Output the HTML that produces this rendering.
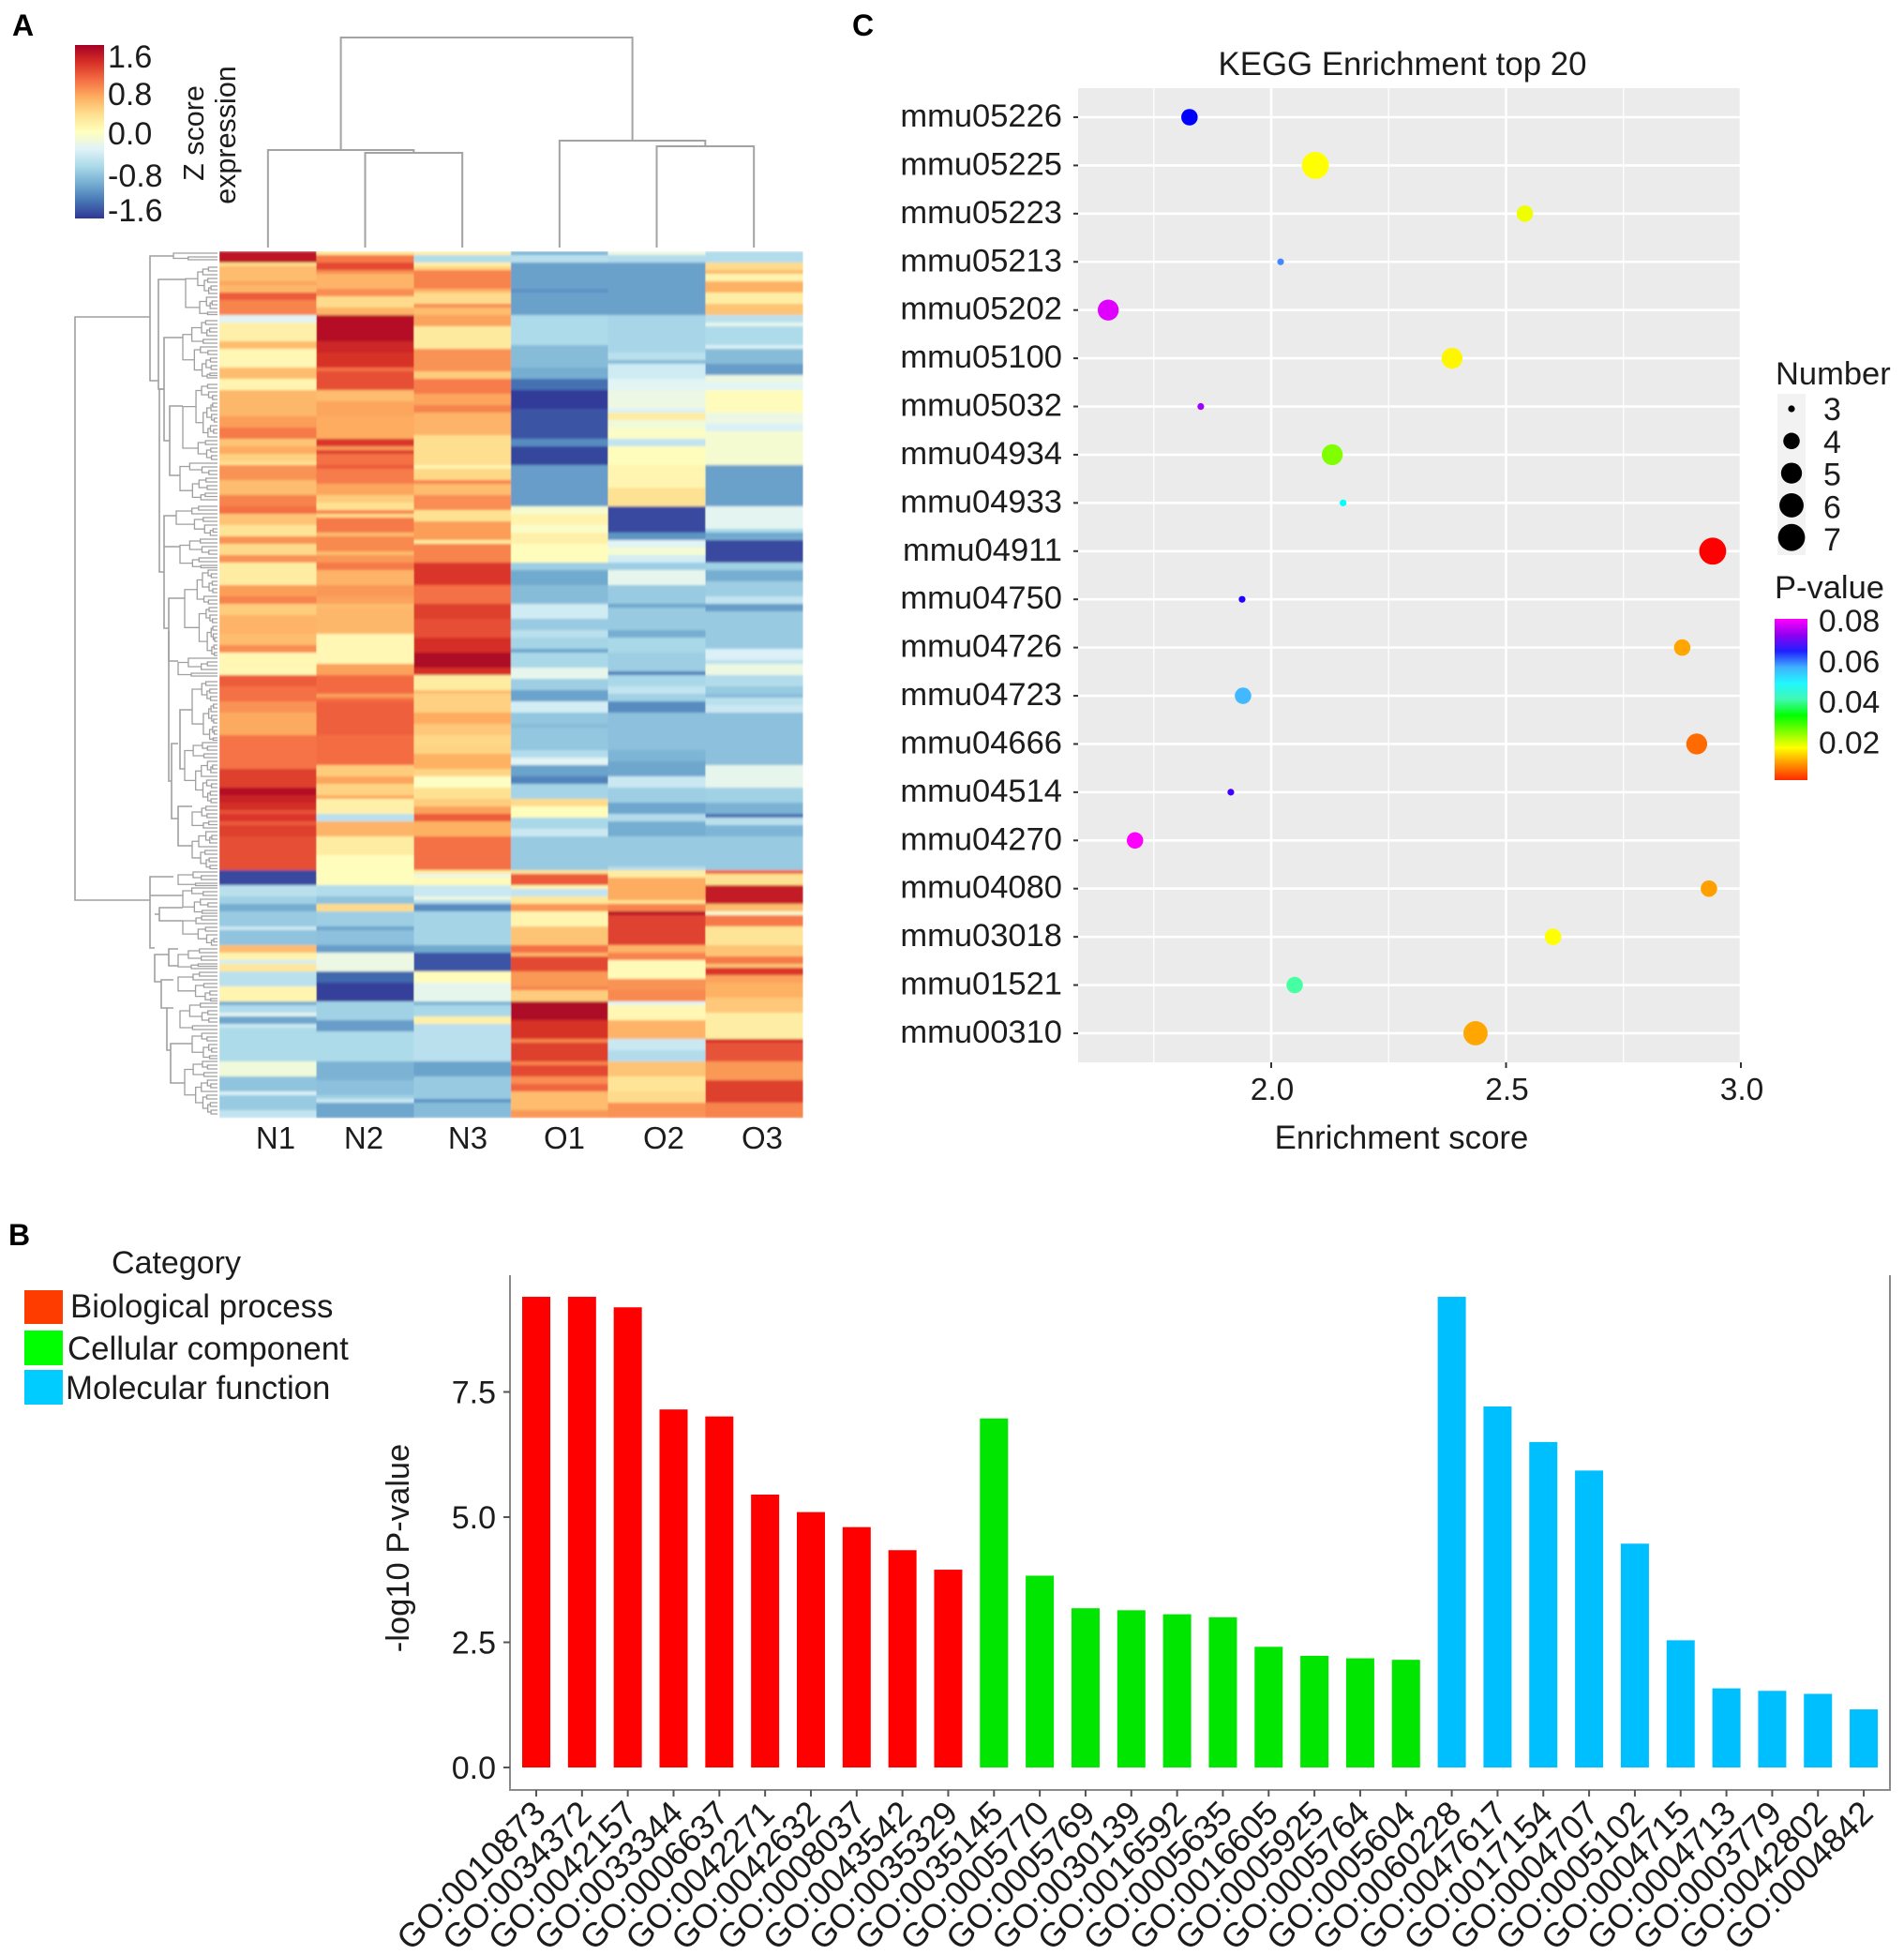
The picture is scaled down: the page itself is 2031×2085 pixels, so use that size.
<!DOCTYPE html>
<html lang="en">
<head>
<meta charset="utf-8">
<title>Heatmap, GO enrichment and KEGG enrichment</title>
<style>
html,body{margin:0;padding:0;background:#fff;}
svg{display:block;}
text{font-family:"Liberation Sans",sans-serif;fill:#1c1c1c;}
</style>
</head>
<body>
<svg id="figure" xmlns="http://www.w3.org/2000/svg" width="2031" height="2085" viewBox="0 0 2031 2085">
<defs>
<linearGradient id="zGrad" x1="0" y1="0" x2="0" y2="1">
<stop offset="0" stop-color="#a50026"/><stop offset=".1" stop-color="#d73027"/><stop offset=".2" stop-color="#f46d43"/><stop offset=".3" stop-color="#fdae61"/><stop offset=".4" stop-color="#fee090"/><stop offset=".5" stop-color="#ffffbf"/><stop offset=".6" stop-color="#e0f3f8"/><stop offset=".7" stop-color="#abd9e9"/><stop offset=".8" stop-color="#74add1"/><stop offset=".9" stop-color="#4575b4"/><stop offset="1" stop-color="#313695"/>
</linearGradient>
<linearGradient id="pGrad" x1="0" y1="0" x2="0" y2="1">
<stop offset="0" stop-color="#ff00ff"/><stop offset=".1" stop-color="#9000f0"/><stop offset=".2" stop-color="#2020ff"/><stop offset=".3" stop-color="#40b0ff"/><stop offset=".4" stop-color="#20f8ff"/><stop offset=".5" stop-color="#40f8b0"/><stop offset=".6" stop-color="#00ff00"/><stop offset=".8" stop-color="#ffff00"/><stop offset="1" stop-color="#ff2a00"/>
</linearGradient>
<filter id="soft" x="0" y="0" width="1" height="1"><feGaussianBlur stdDeviation="0.5 1.2"/></filter>
</defs>

<text x="13" y="38" font-size="32" font-weight="bold" style="fill:#000">A</text>
<text x="909" y="38" font-size="32" font-weight="bold" style="fill:#000">C</text>
<text x="9" y="1328" font-size="32" font-weight="bold" style="fill:#000">B</text>

<g>
<rect x="80" y="48" width="31" height="185" fill="url(#zGrad)"/>
<text x="115" y="72" font-size="34">1.6</text>
<text x="115" y="112" font-size="34">0.8</text>
<text x="115" y="154" font-size="34">0.0</text>
<text x="115" y="199" font-size="34">-0.8</text>
<text x="115" y="236" font-size="34">-1.6</text>
<text transform="translate(217,142) rotate(-90)" text-anchor="middle" font-size="30.5">Z score</text>
<text transform="translate(251,144) rotate(-90)" text-anchor="middle" font-size="30.5">expression</text>
</g>

<g id="colDendro" fill="none" stroke="#a3a3a3" stroke-width="2"></g>
<g id="rowDendro" fill="none" stroke="#9f9f9f" stroke-width="1.6"></g>
<g id="heat" filter="url(#soft)" shape-rendering="crispEdges"></g>
<g id="heatLabels"></g>

<text x="1496" y="80" text-anchor="middle" font-size="35" textLength="393" lengthAdjust="spacingAndGlyphs">KEGG Enrichment top 20</text>
<rect x="1150" y="94" width="707" height="1039" fill="#ebebeb"/>
<g id="keggGrid"></g>
<g id="keggAxes"></g>
<g id="keggPoints"></g>
<text x="1495" y="1225" text-anchor="middle" font-size="34.8">Enrichment score</text>

<text x="1894" y="410" font-size="34.5">Number</text>
<rect x="1896" y="420" width="30" height="172" fill="#f2f2f2"/>
<g id="sizeLegend"></g>
<text x="1893" y="638" font-size="34.5">P-value</text>
<rect x="1893" y="660" width="35" height="172" fill="url(#pGrad)"/>
<g id="pLegend"></g>

<g>
<text x="188" y="1358" text-anchor="middle" font-size="34">Category</text>
<rect x="26" y="1376" width="41" height="36" fill="#ff3c00"/>
<rect x="26" y="1419" width="41" height="37" fill="#00ff00"/>
<rect x="26" y="1461" width="41" height="37" fill="#00ccff"/>
<text x="75" y="1405" font-size="34.8">Biological process</text>
<text x="72" y="1450" font-size="34.8">Cellular component</text>
<text x="70" y="1492" font-size="34.8">Molecular function</text>
</g>

<g id="barAxes"></g>
<g id="bars"></g>
<text transform="translate(436,1651) rotate(-90)" text-anchor="middle" font-size="34.5">-log10 P-value</text>
</svg>

<script>
// ---------- Panel A data: z-score runs per column, as [row count, z] ----------
const heatColumns = ["N1","N2","N3","O1","O2","O3"];
const heatN1 = [[3,1.45],[1,.35],[4,.55],[1,.68],[2,.58],[2,1.05],[4,.85],[2,-.3],[5,.15],[2,.55],[5,.08],[3,.55],[3,.1],[7,.58],[3,.72],[3,.9],[2,.5],[2,.65],[2,.42],[1,.3],[4,.78],[4,.55],[3,.85],[2,.95],[3,.5],[3,.28],[2,.78],[3,.35],[2,.78],[6,.2],[3,.72],[2,.85],[3,.45],[5,.6],[3,.55],[2,.8],[6,.08],[3,1.05],[4,.95],[3,.78],[6,.66],[9,.93],[5,1.2],[2,1.5],[2,1.38],[2,1.3],[1,1.1],[2,1.25],[1,1.05],[3,1.2],[9,1.12],[4,-1.5],[3,-.55],[2,-.7],[2,-.95],[4,-.75],[1,-.45],[4,-.8],[2,.55],[2,.12],[1,-.4],[2,.25],[4,-.55],[4,.1],[1,-.95],[2,-.6],[1,-.3],[2,-1],[1,-.45],[9,-.62],[4,-.15],[4,-.8],[1,-.35],[4,-.75],[2,-.5]];
const heatN2 = [[1,.25],[2,.9],[2,1.15],[1,.8],[4,.6],[2,.8],[3,.35],[2,.6],[7,1.5],[3,1.35],[4,1.28],[1,.95],[5,1.12],[3,.55],[4,.68],[6,.65],[2,1.25],[1,.75],[1,1.2],[3,.95],[1,1.05],[4,.88],[3,.68],[2,.45],[2,.3],[1,.85],[1,.35],[4,.9],[1,.55],[4,.82],[1,.55],[2,.75],[2,.9],[4,.6],[3,.75],[2,.7],[1,.55],[7,.58],[8,.08],[3,.7],[5,.97],[1,.7],[1,.95],[9,1.03],[8,.96],[3,.45],[2,.68],[3,.4],[1,.65],[4,.15],[2,-.55],[4,.6],[5,.2],[4,.02],[4,.02],[3,-.6],[2,-.8],[2,.35],[4,-.72],[1,-1],[4,-.82],[2,-1.05],[5,-.2],[3,-1.35],[5,-1.55],[4,-.7],[1,-.7],[3,-1.05],[8,-.62],[5,-.92],[4,-.82],[1,-.7],[1,-.45],[4,-1]];
const heatN3 = [[1,.15],[2,-.6],[1,.15],[1,.4],[5,.85],[1,.6],[3,.35],[1,.8],[2,.55],[3,.7],[6,.22],[6,.78],[2,.45],[4,.88],[3,.68],[2,.85],[6,.6],[8,.33],[1,.1],[3,.38],[1,.85],[3,.55],[4,.8],[3,.3],[5,.72],[1,.2],[5,.85],[6,1.25],[5,.95],[4,1.2],[5,1.12],[4,1.3],[4,1.55],[2,1.3],[2,.2],[2,.2],[1,.55],[5,.42],[3,.65],[3,.48],[3,.38],[2,.4],[4,.62],[2,.4],[3,-.02],[3,.3],[2,.45],[2,.7],[2,1.05],[4,.62],[9,.95],[1,.2],[1,-.2],[2,.05],[3,-.45],[1,-.2],[1,-.6],[2,-1.15],[9,-.68],[2,-.98],[5,-1.45],[3,.02],[5,-.25],[1,-.9],[3,-.65],[2,.15],[10,-.55],[4,-1.02],[6,-.75],[1,-1.1],[4,-.85]];
const heatO1 = [[1,-.9],[2,-.55],[7,-1.03],[1,-1.12],[6,-1.03],[8,-.62],[6,-.85],[3,-.95],[3,-1.3],[5,-1.58],[8,-1.45],[2,-1.15],[5,-1.52],[11,-1.05],[2,-.1],[3,.12],[2,-.05],[3,.15],[5,.02],[2,-.72],[4,-.98],[5,-.85],[4,-.42],[3,-.75],[2,-.55],[3,-.68],[1,-1],[4,-.65],[3,-.25],[3,-.72],[3,-1.02],[3,-.4],[3,-.78],[1,-.85],[6,-.78],[2,-.6],[2,-.3],[3,-1.02],[2,-1.2],[4,-.68],[2,.35],[3,.02],[3,-.65],[2,-.45],[9,-.75],[1,.3],[3,1.05],[1,.1],[2,-.5],[2,.25],[2,.75],[4,.1],[5,.5],[2,.95],[1,.6],[4,1.15],[4,.75],[1,.85],[3,.45],[5,1.55],[5,1.28],[1,.85],[5,1.2],[1,.85],[3,1.15],[2,.8],[2,1],[5,.55],[2,.75]];
const heatO2 = [[1,-.2],[2,-.6],[14,-1.03],[10,-.66],[2,-.55],[1,-.85],[4,-.42],[3,-.3],[5,-.2],[1,-.35],[2,.2],[2,-.15],[3,-.05],[2,-.5],[5,.02],[6,.1],[5,.3],[7,-1.5],[2,-1.1],[2,-.3],[2,-.1],[2,-.4],[2,-.72],[4,-.25],[5,-.75],[1,-1],[6,-.75],[2,-.95],[4,-.65],[4,-.72],[1,-.72],[1,-1.2],[3,-.65],[2,-.5],[2,-.7],[3,-1.15],[10,-.82],[3,-.9],[4,-1],[3,-.45],[4,-.72],[3,-1],[2,-.6],[4,-.95],[8,-.75],[1,-.6],[2,.2],[6,.65],[1,.3],[2,.85],[1,1.5],[8,1.18],[2,.6],[2,.85],[5,.05],[3,.78],[3,.82],[1,-.3],[4,.08],[5,.6],[3,-.45],[3,-.6],[4,.5],[4,.28],[3,.35],[4,.78]];
const heatO3 = [[3,-.6],[2,.35],[1,.55],[2,.12],[3,.62],[3,.18],[3,.5],[2,-.55],[1,-.25],[5,-.62],[1,-.35],[4,-.85],[3,-1.05],[2,-.2],[2,-.3],[6,.03],[3,-.2],[2,-.35],[9,-.1],[11,-1.03],[6,-.28],[1,-.65],[1,-1],[1,-.95],[6,-1.5],[2,-.7],[3,-.95],[4,-.72],[2,-.5],[2,-1.05],[10,-.75],[3,-.35],[1,-.55],[3,-.2],[3,-.6],[2,-.75],[1,-.85],[2,-.55],[2,-.45],[14,-.82],[6,-.25],[4,-.7],[3,-.92],[1,-1.3],[2,-.55],[3,-.9],[9,-.75],[1,1],[3,.3],[4,1.4],[1,1.4],[2,.55],[1,-.1],[3,.9],[5,.28],[3,.5],[2,.9],[1,.5],[2,1.25],[2,.7],[4,.62],[4,.48],[7,.18],[1,1.3],[5,1.1],[5,.75],[6,1.2],[4,.85]];
// Column tree merges: [left child, right child, merge height]; a child < 6 is a column, otherwise merge index + 6
const colMerges = [[1,2,1.01],[0,6,1.04],[4,5,1.08],[3,8,1.14],[7,9,2.24]];
// Row tree links: [height, row A, row B, branch height A, branch height B]
const rowLinks = [[152,17.5,173,72,72],[72,1.25,34.5,47,63],[63,7.5,36.75,34,57],[62,36.75,85.5,57,57],[57,23,50.5,37,51],[51,41.25,59.75,37,40],[57,70.5,100.5,44,52],[57,78.75,78.75,40,40],[52,92.5,109.25,35,42],[52,101.25,141.25,52,49],[49,131.25,151.25,42,42],[40,122.25,138,27,35],[42,148,158.5,27,27],[72,166.75,185.75,47,67],[72,171.75,171.75,37,37],[67,176.75,176.75,62,62],[62,175,178.5,37,37],[67,187.5,194.75,52,60],[52,186,190.5,42,42],[60,194.25,201.75,47,54],[54,201.75,213,47,50],[50,211.25,221.75,27,35]];
// Row tree clusters: [first row, last row, height]
const rowClusters = [[0,2.5,47],[3.75,17,34],[18,34.25,37],[35,56,37],[56,66.75,40],[67.5,76.25,44],[76.25,84.5,40],[84.5,108,35],[108,113.5,42],[114.25,130.5,27],[130.5,147.5,35],[147.5,154.25,27],[154.25,165,27],[165,169.25,42],[169.25,176.75,37],[176.75,185.5,37],[185.5,191.75,42],[191.75,200,42],[200,208,40],[208,215.5,27],[215.5,230.5,35]];

// ---------- Panel C data ----------
const keggTerms = ["mmu05226","mmu05225","mmu05223","mmu05213","mmu05202","mmu05100","mmu05032","mmu04934","mmu04933","mmu04911","mmu04750","mmu04726","mmu04723","mmu04666","mmu04514","mmu04270","mmu04080","mmu03018","mmu01521","mmu00310"];
const keggScores = [1.826,2.094,2.54,2.02,1.653,2.385,1.85,2.13,2.153,2.94,1.938,2.875,1.94,2.906,1.914,1.71,2.932,2.6,2.05,2.435];
const keggNumbers = [4,7,4,3,5,5,3,5,3,7,3,4,4,5,3,4,4,4,4,6];
const keggPvalues = [.066,.018,.019,.06,.08,.0175,.076,.026,.05,.002,.068,.0125,.056,.0087,.07,.082,.012,.018,.042,.0125];
const keggXTicks = [2.0,2.5,3.0];
const keggXMinor = [1.75,2.25,2.75];
const numberLevels = [3,4,5,6,7];
const pTicks = [0.08,0.06,0.04,0.02];

// ---------- Panel B data ----------
const goTerms = ["GO:0010873","GO:0034372","GO:0042157","GO:0033344","GO:0006637","GO:0042271","GO:0042632","GO:0008037","GO:0043542","GO:0035329","GO:0035145","GO:0005770","GO:0005769","GO:0030139","GO:0016592","GO:0005635","GO:0016605","GO:0005925","GO:0005764","GO:0005604","GO:0060228","GO:0047617","GO:0017154","GO:0004707","GO:0005102","GO:0004715","GO:0004713","GO:0003779","GO:0042802","GO:0004842"];
const goValues = [9.40,9.40,9.19,7.15,7.01,5.45,5.10,4.80,4.34,3.95,6.97,3.83,3.18,3.14,3.06,3.00,2.41,2.23,2.18,2.15,9.40,7.21,6.50,5.93,4.47,2.54,1.58,1.53,1.47,1.16];
const goGroups = ["BP","BP","BP","BP","BP","BP","BP","BP","BP","BP","CC","CC","CC","CC","CC","CC","CC","CC","CC","CC","MF","MF","MF","MF","MF","MF","MF","MF","MF","MF"];
const goYTicks = [0,2.5,5,7.5];

// ---------- helpers ----------
const NS = "http://www.w3.org/2000/svg";
function mk(parent, tag){ const el = document.createElementNS(NS, tag); parent.appendChild(el); return el; }
function attrs(el, o){ for (const k in o) el.setAttribute(k, o[k]); return el; }

// ---------- Panel A ----------
const heatLeft = 234, heatColW = 103.67, heatTop = 268, rowH = 4;
const xCol = i => heatLeft + i * heatColW;
const yRow = r => heatTop + r * rowH;
const xRowTree = h => 232 - h;
const zStops = ["#313695","#4575b4","#74add1","#abd9e9","#e0f3f8","#ffffbf","#fee090","#fdae61","#f46d43","#d73027","#a50026"];
function hexRgb(h){ return [1,3,5].map(i => parseInt(h.substr(i,2),16)); }
function zColor(z){
  const t = Math.max(0, Math.min(1, (z + 1.6) / 3.2)) * 10;
  const i = Math.min(9, Math.floor(t)), f = t - i;
  const a = hexRgb(zStops[i]), b = hexRgb(zStops[i+1]);
  return "rgb(" + a.map((v,k) => Math.round(v + (b[k]-v)*f)).join(",") + ")";
}
const heatGroup = document.getElementById("heat");
[heatN1,heatN2,heatN3,heatO1,heatO2,heatO3].forEach((runs, c) => {
  let row = 0;
  runs.forEach(run => {
    const cell = mk(heatGroup, "rect");
    attrs(cell, {x: xCol(c), y: yRow(row), width: heatColW + .5, height: run[0]*rowH + .5, fill: zColor(run[1])});
    
    
    row += run[0];
  });
});
const heatLabelX = [294,388,499,602,708,813];
const heatLabelGroup = document.getElementById("heatLabels");
heatColumns.forEach((name, i) => {
  const t = mk(heatLabelGroup, "text");
  attrs(t, {x: heatLabelX[i], y: 1225, "text-anchor": "middle", "font-size": 33});
  t.textContent = name;
  
  
});

// column dendrogram
const colBase = 264, colScale = 100;
const yCol = h => colBase - h * colScale;
const colTree = document.getElementById("colDendro");
const mergeInfo = [];
function childInfo(c){ return c < 6 ? {x: xCol(c) + heatColW/2, y: colBase} : mergeInfo[c-6]; }
colMerges.forEach(m => {
  const a = childInfo(m[0]), b = childInfo(m[1]), y = yCol(m[2]);
  const p = mk(colTree, "path");
  p.setAttribute("d", `M${a.x} ${a.y}V${y}H${b.x}V${b.y}`);
  
  
  mergeInfo.push({x: (a.x + b.x)/2, y: y});
});

// row dendrogram
const rowTree = document.getElementById("rowDendro");
rowLinks.forEach(l => {
  const p = mk(rowTree, "path");
  p.setAttribute("d", `M${xRowTree(l[3])} ${yRow(l[1])}H${xRowTree(l[0])}V${yRow(l[2])}H${xRowTree(l[4])}`);
  
  
});
function clusterPath(r0, r1, h, depth, out){
  const n = r1 - r0;
  if (n <= 1.2) {
    const m = (r0 + r1) / 2;
    out.push(`M${xRowTree(h)} ${yRow(m)}H${xRowTree(0)}`);
    return m;
  }
  const ratio = [0.3, 0.58, 0.42, 0.7, 0.36][depth % 5];
  const split = r0 + Math.max(1, Math.min(n - 1, Math.round(n * ratio)));
  const hNext = Math.max(2, h * (depth % 2 ? 0.62 : 0.74));
  const a = clusterPath(r0, split, hNext, depth + 1, out);
  const b = clusterPath(split, r1, hNext * 0.9, depth + 2, out);
  out.push(`M${xRowTree(hNext)} ${yRow(a)}H${xRowTree(h)}V${yRow(b)}H${xRowTree(hNext*0.9)}`);
  return (a + b) / 2;
}
rowClusters.forEach((c, i) => {
  const out = [];
  clusterPath(c[0], c[1], c[2], i, out);
  const p = mk(rowTree, "path");
  p.setAttribute("d", out.join(""));
  p.setAttribute("stroke-width", "1.3");
  
  
});

// ---------- Panel C ----------
const xKegg = v => 1356 + (v - 2) * 501;
const yKegg = i => 125 + i * 51.42;
const rNumber = n => Math.sqrt(13 + 64 * Math.pow(n - 3, 0.8));
function pColor(p){
  const hue = Math.max(0, (p - 0.002) / 0.08 * 300);
  const bump = hue > 120 && hue < 240 ? 14 * Math.sin(Math.PI * ((hue - 120) % 60) / 60) : 0;
  return `hsl(${hue},100%,${50 + bump}%)`;
}
const keggGrid = document.getElementById("keggGrid");
keggXMinor.forEach(v => {
  const g = mk(keggGrid, "line");
  attrs(g, {x1: xKegg(v), x2: xKegg(v), y1: 94, y2: 1133, stroke: "#fff", "stroke-width": 1.3});
  
  
});
keggXTicks.forEach(v => {
  const g = mk(keggGrid, "line");
  attrs(g, {x1: xKegg(v), x2: xKegg(v), y1: 94, y2: 1133, stroke: "#fff", "stroke-width": 2.6});
  
  
});
keggTerms.forEach((term, i) => {
  const g = mk(keggGrid, "line");
  attrs(g, {x1: 1150, x2: 1857, y1: yKegg(i), y2: yKegg(i), stroke: "#fff", "stroke-width": 2.6});
  
  
});
const keggAxes = document.getElementById("keggAxes");
keggTerms.forEach((term, i) => {
  const tick = mk(keggAxes, "line");
  attrs(tick, {x1: 1145, x2: 1150, y1: yKegg(i), y2: yKegg(i), stroke: "#333", "stroke-width": 2});
  
  
  const t = mk(keggAxes, "text");
  attrs(t, {x: 1133, y: yKegg(i) + 10, "text-anchor": "end", "font-size": 34.5});
  t.textContent = term;
  
  
});
keggXTicks.forEach(v => {
  const tick = mk(keggAxes, "line");
  attrs(tick, {x1: xKegg(v), x2: xKegg(v), y1: 1133, y2: 1139, stroke: "#333", "stroke-width": 2});
  
  
  const t = mk(keggAxes, "text");
  attrs(t, {x: xKegg(v) + 1, y: 1173, "text-anchor": "middle", "font-size": 33.5});
  t.textContent = v.toFixed(1);
  
  
});
const keggPoints = document.getElementById("keggPoints");
keggTerms.forEach((term, i) => {
  const c = mk(keggPoints, "circle");
  attrs(c, {cx: xKegg(keggScores[i]), cy: yKegg(i), r: rNumber(keggNumbers[i]), fill: pColor(keggPvalues[i])});
  
  
});
const yNumberKey = i => 436 + i * 34.3;
const sizeLegend = document.getElementById("sizeLegend");
numberLevels.forEach((n, i) => {
  const c = mk(sizeLegend, "circle");
  attrs(c, {cx: 1911, cy: yNumberKey(i), r: rNumber(n), fill: "#000"});
  
  
  const t = mk(sizeLegend, "text");
  attrs(t, {x: 1945, y: yNumberKey(i) + 12 + i * 0.5, "font-size": 34});
  t.textContent = n;
  
  
});
const yPLegend = p => 793 - (p - 0.02) * 2167;
const pLegend = document.getElementById("pLegend");
pTicks.forEach(p => {
  const t = mk(pLegend, "text");
  attrs(t, {x: 1940, y: yPLegend(p) + 10.5, "font-size": 33.5});
  t.textContent = p.toFixed(2);
  
  
});

// ---------- Panel B ----------
const xBar = i => 572 + i * 48.83;
const yBar = v => 1885 - v * 53.4;
const groupColors = {BP: "#ff0000", CC: "#00e600", MF: "#00bfff"};
const barAxes = document.getElementById("barAxes");
const axisPath = mk(barAxes, "path");
axisPath.setAttribute("d", "M544 1360V1909H2016V1360");
axisPath.setAttribute("fill", "none");
axisPath.setAttribute("stroke", "#8a8a8a");
axisPath.setAttribute("stroke-width", "2");


goYTicks.forEach(v => {
  const tick = mk(barAxes, "line");
  attrs(tick, {x1: 537, x2: 544, y1: yBar(v), y2: yBar(v), stroke: "#555", "stroke-width": 2});
  
  
  const t = mk(barAxes, "text");
  attrs(t, {x: 529, y: yBar(v) + 12, "text-anchor": "end", "font-size": 34});
  t.textContent = v.toFixed(1);
  
  
});
const barGroup = document.getElementById("bars");
goTerms.forEach((term, i) => {
  const b = mk(barGroup, "rect");
  attrs(b, {x: xBar(i) - 15, y: yBar(goValues[i]), width: 30, height: goValues[i] * 53.4, fill: groupColors[goGroups[i]]});
  
  
  const tick = mk(barAxes, "line");
  attrs(tick, {x1: xBar(i), x2: xBar(i), y1: 1909, y2: 1916, stroke: "#555", "stroke-width": 2});
  
  
  const t = mk(barAxes, "text");
  attrs(t, {transform: `translate(${xBar(i) + 12},1936) rotate(-45)`, "text-anchor": "end", "font-size": 36});
  t.textContent = term;
  
  
});
</script>
</body>
</html>
